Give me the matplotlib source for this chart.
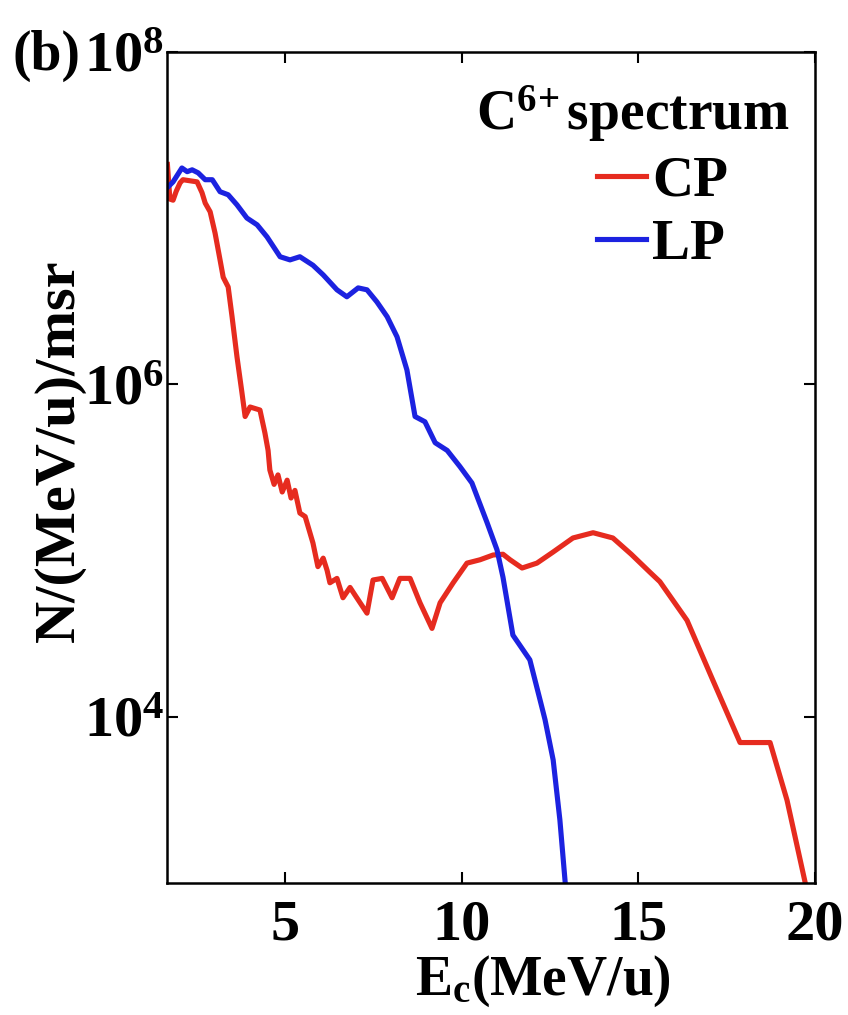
import matplotlib
matplotlib.use('Agg')
import matplotlib.pyplot as plt
from matplotlib.ticker import FixedLocator, FixedFormatter, NullLocator

# C6+ spectrum, circular polarisation (CP)
cp_energy = [1.67, 1.74, 1.83, 1.92, 2.03, 2.11, 2.51, 2.65, 2.74, 2.88, 3.02, 3.16, 3.25, 3.39,
             3.50, 3.64, 3.78, 3.87, 4.01, 4.29, 4.43, 4.52, 4.57, 4.69, 4.80, 4.92, 5.06, 5.17,
             5.28, 5.42, 5.57, 5.79, 5.93, 6.08, 6.19, 6.27, 6.47, 6.64, 6.84, 6.98, 7.32, 7.49,
             7.75, 8.03, 8.25, 8.54, 8.82, 9.16, 9.39, 9.76, 10.15, 10.52, 10.89, 11.17, 11.37,
             11.71, 12.13, 12.59, 13.15, 13.72, 14.28, 14.80, 15.33, 15.61, 16.38, 17.11, 17.88,
             18.73, 19.21, 19.75]
cp_counts = [2.1e7, 1.3e7, 1.28e7, 1.45e7, 1.63e7, 1.70e7, 1.65e7, 1.42e7, 1.23e7, 1.09e7, 8.1e6,
             5.6e6, 4.4e6, 3.85e6, 2.55e6, 1.46e6, 8.9e5, 6.4e5, 7.3e5, 7.0e5, 5.1e5, 4.0e5, 3.05e5,
             2.5e5, 2.85e5, 2.25e5, 2.65e5, 2.07e5, 2.3e5, 1.68e5, 1.6e5, 1.11e5, 8.0e4, 9.0e4,
             7.6e4, 6.4e4, 6.8e4, 5.2e4, 6.0e4, 5.4e4, 4.2e4, 6.65e4, 6.8e4, 5.2e4, 6.8e4, 6.8e4,
             4.85e4, 3.4e4, 4.85e4, 6.4e4, 8.4e4, 8.8e4, 9.4e4, 9.5e4, 8.8e4, 7.85e4, 8.4e4, 9.8e4,
             1.19e5, 1.28e5, 1.19e5, 9.5e4, 7.4e4, 6.5e4, 3.8e4, 1.66e4, 7.0e3, 7.0e3, 3.15e3, 9.5e2]

# C6+ spectrum, linear polarisation (LP)
lp_energy = [1.69, 1.83, 2.08, 2.23, 2.37, 2.54, 2.74, 2.94, 3.16, 3.39, 3.64, 3.92, 4.21, 4.49,
             4.86, 5.14, 5.42, 5.79, 6.08, 6.47, 6.75, 7.07, 7.32, 7.60, 7.89, 8.17, 8.45, 8.68,
             8.96, 9.25, 9.59, 9.95, 10.29, 10.72, 11.00, 11.17, 11.45, 11.93, 12.22, 12.36, 12.59,
             12.78, 12.95]
lp_counts = [1.54e7, 1.65e7, 2.0e7, 1.9e7, 1.95e7, 1.87e7, 1.70e7, 1.70e7, 1.44e7, 1.38e7, 1.20e7,
             1.0e7, 9.1e6, 7.7e6, 5.85e6, 5.6e6, 5.85e6, 5.2e6, 4.55e6, 3.7e6, 3.36e6, 3.8e6, 3.7e6,
             3.13e6, 2.55e6, 1.93e6, 1.22e6, 6.4e5, 5.95e5, 4.45e5, 4.0e5, 3.2e5, 2.55e5, 1.47e5,
             1.01e5, 6.9e4, 3.1e4, 2.2e4, 1.26e4, 9.6e3, 5.5e3, 2.4e3, 9.0e2]

x_ticks = [5, 10, 15, 20]
y_ticks = [1e4, 1e6, 1e8]
y_tick_labels = ['$10^{4}$', '$10^{6}$', '$10^{8}$']

plt.rcParams['font.family'] = 'Liberation Serif'
plt.rcParams['font.weight'] = 'bold'
plt.rcParams['axes.labelweight'] = 'bold'
plt.rcParams['mathtext.fontset'] = 'custom'
plt.rcParams['mathtext.rm'] = 'Liberation Serif:bold'
plt.rcParams['mathtext.it'] = 'Liberation Serif:bold'
plt.rcParams['mathtext.bf'] = 'Liberation Serif:bold'

fig = plt.figure(figsize=(8.48, 10.15), dpi=100)
ax = fig.add_axes([0.197, 0.130, 0.764, 0.819])

ax.plot(cp_energy, cp_counts, color='#e62b1f', lw=3.7, label='CP', solid_joinstyle='round')
ax.plot(lp_energy, lp_counts, color='#1c22e0', lw=3.7, label='LP', solid_joinstyle='round')

ax.set_yscale('log')
ax.set_xlim(1.66, 20)
ax.set_ylim(1e3, 1e8)

ax.xaxis.set_major_locator(FixedLocator(x_ticks))
ax.yaxis.set_major_locator(FixedLocator(y_ticks))
ax.yaxis.set_major_formatter(FixedFormatter(y_tick_labels))
ax.yaxis.set_minor_locator(NullLocator())
ax.tick_params(direction='in', length=8, width=1.5, top=True, right=True, labelsize=42)
ax.tick_params(axis='x', pad=12)
ax.tick_params(axis='y', pad=2)
for spine in ax.spines.values():
    spine.set_linewidth(1.8)

ax.set_xlabel('E$_c$(MeV/u)', fontsize=40)
ax.xaxis.set_label_coords(0.58, -0.085)
ax.set_ylabel('N/(MeV/u)/msr', fontsize=42)
ax.yaxis.set_label_coords(-0.125, 0.52)

ax.text(0.962, 0.962, r'C$^{6\!+}$spectrum', transform=ax.transAxes, ha='right', va='top',
        fontsize=40)
leg = ax.legend(loc='upper left', bbox_to_anchor=(0.62, 0.909), frameon=False, fontsize=41,
                handlelength=0.85, handletextpad=0.12, labelspacing=0.2, borderpad=0)

fig.text(0.015, 0.945, '(b)', fontsize=40, ha='left', va='center')

fig.savefig('out.png', dpi=100)
